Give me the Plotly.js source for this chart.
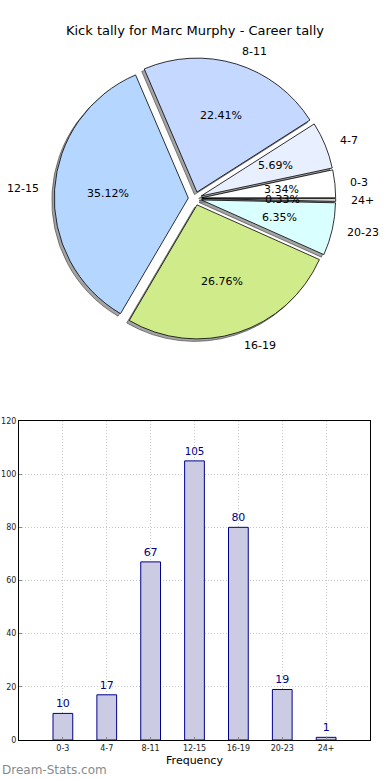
<!DOCTYPE html>
<html>
<head>
<meta charset="utf-8">
<script src="https://cdn.plot.ly/plotly-3.0.1.min.js"></script>
<style>html,body{margin:0;padding:0;background:#fff;}#chart{width:390px;height:780px;}</style>
</head>
<body>
<div id="chart"></div>
<script>
// ---- data ----
const categories = ['0-3', '4-7', '8-11', '12-15', '16-19', '20-23', '24+'];
const counts = [10, 17, 67, 105, 80, 19, 1];
const sliceColors = ['#ffffff', '#e8efff', '#c5d8ff', '#b5d6ff', '#d0eb8a', '#d9ffff', '#dddddd'];
const chartTitle = 'Kick tally for Marc Murphy - Career tally';
const yTicks = [0, 20, 40, 60, 80, 100, 120];

// ---- layout geometry ----
const W = 390, H = 780;
const FONT = 'DejaVu Sans, sans-serif';
const pull = 0.05;
const R = 134;            // pie radius (px)
const cx = 195, cy = 198.5; // pie centre (px from top-left)
const half = R * (1 + pull);
const pieDomain = {
  x: [(cx - half) / W, (cx + half) / W],
  y: [1 - (cy + half) / H, 1 - (cy - half) / H]
};
const sh = 2.5; // shadow offset px
const shadowDomain = {
  x: [pieDomain.x[0] - sh / W, pieDomain.x[1] - sh / W],
  y: [pieDomain.y[0] - sh / H, pieDomain.y[1] - sh / H]
};

const total = counts.reduce((a, b) => a + b, 0);
// plotly places the first counterclockwise slice clockwise of "rotation";
// shift so the first slice starts at 3 o'clock like matplotlib
const rot = 90 - counts[0] / total * 360;
const pulls = categories.map(() => pull);

const shadowTrace = {
  type: 'pie', values: counts, labels: categories, sort: false,
  direction: 'counterclockwise', rotation: rot, pull: pulls,
  domain: shadowDomain, textinfo: 'none', hoverinfo: 'skip',
  marker: {colors: categories.map(() => 'rgba(90,90,90,0.55)'), line: {color: 'rgba(60,60,60,0.6)', width: 1}},
  showlegend: false
};
const pieTrace = {
  type: 'pie', values: counts, labels: categories, sort: false,
  direction: 'counterclockwise', rotation: rot, pull: pulls,
  domain: pieDomain, textinfo: 'none', hoverinfo: 'label+value+percent',
  marker: {colors: sliceColors, line: {color: '#000000', width: 0.8}},
  showlegend: false
};

const barTrace = {
  type: 'bar', x: categories, y: counts, width: 0.45,
  marker: {color: '#cbcbe4', line: {color: '#00008b', width: 1}},
  text: counts.map(String), textposition: 'outside', cliponaxis: false,
  textfont: {family: FONT, size: 11, color: '#00008b'},
  xaxis: 'x', yaxis: 'y', showlegend: false, hoverinfo: 'x+y'
};

// pie annotations (labels outside, percentages inside), placed like matplotlib
const annotations = [];
let cum = 0;
counts.forEach((v, i) => {
  const a0 = cum / total * 2 * Math.PI;
  cum += v;
  const a1 = cum / total * 2 * Math.PI;
  const mid = (a0 + a1) / 2;
  const c = Math.cos(mid), s = Math.sin(mid);
  const ox = cx + pull * R * c, oy = cy - pull * R * s;
  const lx = ox + 1.1 * R * c, ly = oy - 1.1 * R * s;
  const px = ox + 0.6 * R * c, py = oy - 0.6 * R * s;
  annotations.push({
    xref: 'paper', yref: 'paper', x: lx / W, y: 1 - ly / H,
    text: categories[i], showarrow: false,
    xanchor: c >= 0 ? 'left' : 'right', yanchor: 'middle',
    font: {family: FONT, size: 11, color: '#000'}
  });
  annotations.push({
    xref: 'paper', yref: 'paper', x: px / W, y: 1 - py / H,
    text: (v / total * 100).toFixed(2) + '%', showarrow: false,
    xanchor: 'center', yanchor: 'middle',
    font: {family: FONT, size: 11, color: '#000'}
  });
});
annotations.push({
  xref: 'paper', yref: 'paper', x: 0, y: 1 - 770 / H,
  text: 'Dream-Stats.com', showarrow: false,
  xanchor: 'left', yanchor: 'middle',
  font: {family: FONT, size: 12, color: '#8a8a8a'}
});

const layout = {
  width: W, height: H,
  margin: {l: 0, r: 0, t: 0, b: 0},
  paper_bgcolor: '#ffffff', plot_bgcolor: '#ffffff',
  title: {text: chartTitle, font: {family: FONT, size: 13, color: '#000'},
          x: 0.5, xanchor: 'center', y: 1 - 30 / H, yanchor: 'middle', xref: 'paper', yref: 'paper'},
  xaxis: {
    domain: [19 / W, 370 / W], anchor: 'y',
    type: 'category', range: [-1, 7],
    showline: true, mirror: true, linecolor: '#000', linewidth: 1,
    showgrid: true, gridcolor: '#c8c8c8', griddash: '1px,2px', gridwidth: 1,
    ticks: 'inside', ticklen: 3, tickcolor: '#888',
    tickfont: {family: FONT, size: 8, color: '#222'},
    title: {text: 'Frequency', font: {family: FONT, size: 11, color: '#000'}, standoff: 4},
    zeroline: false, fixedrange: true
  },
  yaxis: {
    domain: [1 - 740 / H, 1 - 421 / H], anchor: 'x',
    range: [0, 120], tickvals: yTicks,
    showline: true, mirror: true, linecolor: '#000', linewidth: 1,
    showgrid: true, gridcolor: '#c8c8c8', griddash: '1px,2px', gridwidth: 1,
    ticks: 'inside', ticklen: 3, tickcolor: '#888',
    tickfont: {family: FONT, size: 8, color: '#222'},
    zeroline: false, fixedrange: true
  },
  annotations: annotations,
  showlegend: false
};

Plotly.newPlot('chart', [shadowTrace, pieTrace, barTrace], layout, {displayModeBar: false});
</script>
</body>
</html>
